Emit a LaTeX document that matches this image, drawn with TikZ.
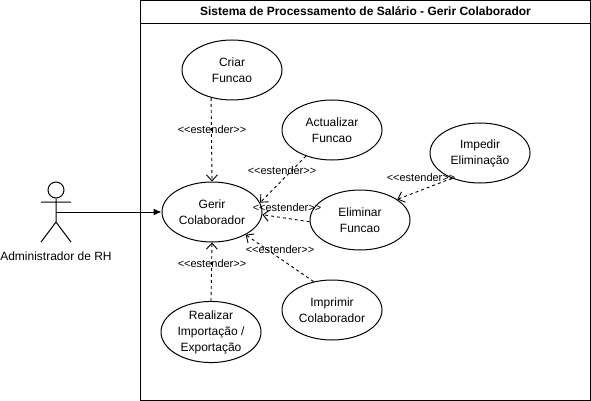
\documentclass[tikz,border=0pt]{standalone}
\usepackage{fontspec}
\setmainfont{Liberation Sans}
\usetikzlibrary{arrows.meta,shapes.geometric}
\tikzset{
  x=1pt,y=-1pt,
  usecase/.style={draw,ellipse,line width=1pt,minimum width=100pt,minimum height=60pt,inner sep=0pt,align=center,font=\fontsize{12}{16}\selectfont},
  ext/.style={draw,line width=.9pt,dash pattern=on 3pt off 3pt,-{Straight Barb[length=6pt,width=11pt,line width=.9pt]}},
  lbl/.style={font=\fontsize{11}{13}\selectfont,inner sep=0pt},
  stick/.style={draw,line width=1pt},
}
\begin{document}
\begin{tikzpicture}
\useasboundingbox (0,0) rectangle (591,401);
\fill[white] (0,0) rectangle (591,401);
\node[draw,line width=1pt,outer sep=0pt,minimum width=449.5pt,minimum height=399.5pt,inner sep=0pt,anchor=north west] (sys) at (140.5,0.5) {};
\draw[line width=1pt] (sys.north west |- 0,23.5) -- (sys.north east |- 0,23.5);
\node[font=\bfseries\fontsize{12}{14}\selectfont] (title) at (365.5,11.5) {Sistema de Processamento de Salário - Gerir Colaborador};
\node[usecase] (gerir) at (212,212) {Gerir\\Colaborador};
\node[usecase] (criar) at (232,70) {Criar\\Funcao};
\node[usecase] (act) at (332,130) {Actualizar\\Funcao};
\node[usecase] (elim) at (360,220) {Eliminar\\Funcao};
\node[usecase] (imp) at (480,153) {Impedir\\Eliminação};
\node[usecase] (impr) at (332,310) {Imprimir\\Colaborador};
\node[usecase] (real) at (211,332) {Realizar\\Importação /\\Exportação};
\node[stick,circle,minimum size=16pt,inner sep=0pt] (head) at (56,190) {};
\coordinate (hip) at (56,222);
\coordinate (armL) at (41,202);
\coordinate (armR) at (71,202);
\coordinate (footL) at (41,242);
\coordinate (footR) at (71,242);
\draw[stick] (head.south) -- (hip) (armL) -- (armR) (footL) -- (hip) -- (footR);
\node[font=\fontsize{12}{14}\selectfont] (admin) at (56,256) {Administrador de RH};
\coordinate (armC) at (56,212);
\draw[line width=1pt,-{Latex[length=8pt,width=7pt]}] (armC) -- (gerir.west);
\draw[ext] (criar.233) -- (gerir.north);
\draw[ext] (act.225) -- (gerir.11);
\draw[ext] (elim.182) -- (gerir.357);
\draw[ext] (impr.123) -- (gerir.326);
\draw[ext] (real.north) -- (gerir.south);
\draw[ext] (imp.222) -- (elim.29);
\node[lbl] (l1) at (212,130) {<{}<estender>{}>};
\node[lbl] (l2) at (282,170.5) {<{}<estender>{}>};
\node[lbl] (l3) at (287,208) {<{}<estender>{}>};
\node[lbl] (l4) at (421,177.5) {<{}<estender>{}>};
\node[lbl] (l5) at (280,249.5) {<{}<estender>{}>};
\node[lbl] (l6) at (212,263.5) {<{}<estender>{}>};
\end{tikzpicture}
\end{document}
